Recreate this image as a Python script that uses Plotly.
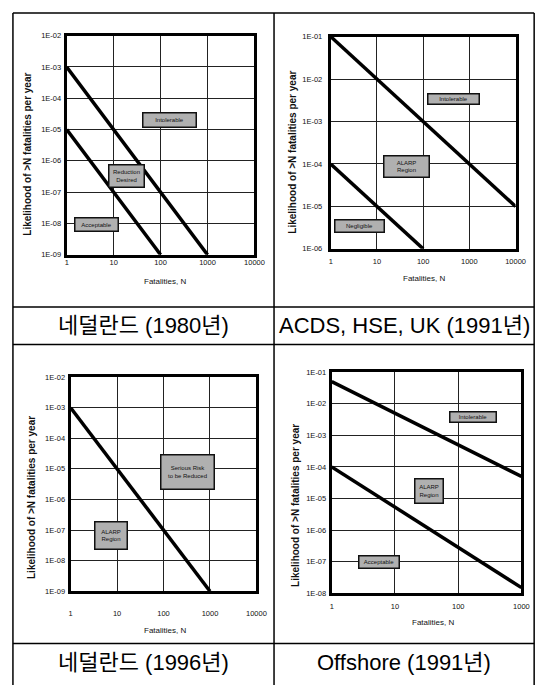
import plotly.graph_objects as go

W, H = 551, 687          # browser window
OFF = 8                  # default body margin of the written page
FW, FH = W - OFF, H - OFF

# ---------------- data ----------------
x_ticks_4 = [1, 10, 100, 1000, 10000]
x_ticktext_4 = ["1", "10", "100", "1000", "10000"]
x_ticks_3 = [1, 10, 100, 1000]
x_ticktext_3 = ["1", "10", "100", "1000"]

p1_yticks = [1e-2, 1e-3, 1e-4, 1e-5, 1e-6, 1e-7, 1e-8, 1e-9]
p1_yticktext = ["1E-02", "1E-03", "1E-04", "1E-05", "1E-06", "1E-07", "1E-08", "1E-09"]
p2_yticks = [1e-1, 1e-2, 1e-3, 1e-4, 1e-5, 1e-6]
p2_yticktext = ["1E-01", "1E-02", "1E-03", "1E-04", "1E-05", "1E-06"]
p4_yticks = [1e-1, 1e-2, 1e-3, 1e-4, 1e-5, 1e-6, 1e-7, 1e-8]
p4_yticktext = ["1E-01", "1E-02", "1E-03", "1E-04", "1E-05", "1E-06", "1E-07", "1E-08"]

# Netherlands 1980
p1_upper_n = [1, 1000]
p1_upper_f = [1e-3, 1e-9]
p1_lower_n = [1, 100]
p1_lower_f = [1e-5, 1e-9]
# ACDS, HSE, UK 1991
p2_upper_n = [1, 10000]
p2_upper_f = [1e-1, 1e-5]
p2_lower_n = [1, 100]
p2_lower_f = [1e-4, 1e-6]
# Netherlands 1996
p3_n = [1, 1000]
p3_f = [1e-3, 1e-9]
# Offshore 1991
p4_upper_n = [1, 1000]
p4_upper_f = [5e-2, 5e-5]
p4_lower_n = [1, 1000]
p4_lower_f = [1e-4, 1.5e-8]

captions = ["네덜란드 (1980년)", "ACDS, HSE, UK (1991년)", "네덜란드 (1996년)", "Offshore (1991년)"]
y_title = "Likelihood of &gt;N fatalities per year"
x_title = "Fatalities, N"

region_labels = [
    ["Intolerable", "Reduction<br>Desired", "Acceptable"],
    ["Intolerable", "ALARP<br>Region", "Negligible"],
    ["Serious Risk<br>to be Reduced", "ALARP<br>Region"],
    ["Intolerable", "ALARP<br>Region", "Acceptable"],
]

# ---------------- helpers ----------------
def px(x):
    return (x - OFF) / FW

def py(y):
    return 1 - (y - OFF) / FH

NARROW = "Liberation Sans Narrow, Arial Narrow, Liberation Sans, sans-serif"

fig = go.Figure()

# panel frames (pixel boxes: x0, x1, y0(top), y1(bottom))
frames = [
    (66, 258, 32, 254),
    (336, 525, 33, 248),
    (70, 260, 378, 595),
    (337, 531, 373, 597),
]
xranges = [[0, 4], [0, 4], [0, 4], [0, 3]]
yranges = [[-9, -2], [-6, -1], [-9, -2], [-8, -1]]
xstand = [-2, 3, 13, 4]
ystand = [1, 4, 1, 1]
xtv = [(x_ticks_4, x_ticktext_4), (x_ticks_4, x_ticktext_4), (x_ticks_4, x_ticktext_4), (x_ticks_3, x_ticktext_3)]
ytv = [(p1_yticks, p1_yticktext), (p2_yticks, p2_yticktext), (p1_yticks, p1_yticktext), (p4_yticks, p4_yticktext)]

series = [
    [(p1_upper_n, p1_upper_f), (p1_lower_n, p1_lower_f)],
    [(p2_upper_n, p2_upper_f), (p2_lower_n, p2_lower_f)],
    [(p3_n, p3_f)],
    [(p4_upper_n, p4_upper_f), (p4_lower_n, p4_lower_f)],
]

for i in range(4):
    xa = "x" if i == 0 else f"x{i+1}"
    ya = "y" if i == 0 else f"y{i+1}"
    for n, f in series[i]:
        fig.add_trace(go.Scatter(x=n, y=f, xaxis=xa, yaxis=ya, mode="lines",
                                 line=dict(color="black", width=3.5),
                                 showlegend=False, hoverinfo="skip"))
    x0, x1, y0, y1 = frames[i]
    axname = "xaxis" if i == 0 else f"xaxis{i+1}"
    ayname = "yaxis" if i == 0 else f"yaxis{i+1}"
    fig.layout[axname] = dict(
        type="log", range=xranges[i], domain=[px(x0), px(x1)],
        anchor=ya, showline=True, mirror=True, linecolor="black", linewidth=3,
        showgrid=True, gridcolor="#222222", gridwidth=1, zeroline=False,
        tickvals=xtv[i][0], ticktext=xtv[i][1], ticks="",
        tickfont=dict(family=NARROW, size=7.5, color="#111111"),
        ticklabelstandoff=xstand[i], fixedrange=True,
    )
    fig.layout[ayname] = dict(
        type="log", range=yranges[i], domain=[py(y1), py(y0)],
        anchor=xa, showline=True, mirror=True, linecolor="black", linewidth=3,
        showgrid=True, gridcolor="#222222", gridwidth=1, zeroline=False,
        tickvals=ytv[i][0], ticktext=ytv[i][1], ticks="",
        tickfont=dict(family=NARROW, size=7.5, color="#111111"),
        ticklabelstandoff=ystand[i], fixedrange=True,
    )

annotations = []

# axis titles
ytitle_pos = [(25, 152), (297, 150), (30, 500), (300, 508)]
xtitle_pos = [(166, 281), (431, 278), (167, 635), (441, 627)]
for (x, y) in ytitle_pos:
    annotations.append(dict(x=px(x), y=py(y), xref="paper", yref="paper", text=f"<b>{y_title}</b>",
                            textangle=-90, showarrow=False, xanchor="center", yanchor="middle",
                            font=dict(family="Liberation Sans, Arial, sans-serif", size=10, color="#111111")))
for (x, y) in xtitle_pos:
    annotations.append(dict(x=px(x), y=py(y), xref="paper", yref="paper", text=x_title,
                            showarrow=False, xanchor="center", yanchor="middle",
                            font=dict(family=NARROW, size=8, color="#111111")))

# region boxes (pixel centre x, centre y, width, height)
boxes = [
    [(171.5, 117, 55, 16), (127.5, 174, 37, 24), (96.5, 223.5, 45, 15)],
    [(461.5, 96.5, 53, 12), (413.5, 164.5, 47, 23), (365.5, 225, 51, 14)],
    [(189.5, 474, 55, 36), (111, 538.5, 34, 29)],
    [(481, 418, 48, 12), (436, 493, 30, 26), (385, 565, 42, 14)],
]
for i in range(4):
    for lab, (cx, cy, w, h) in zip(region_labels[i], boxes[i]):
        annotations.append(dict(x=px(cx), y=py(cy), xref="paper", yref="paper", text=lab,
                                showarrow=False, xanchor="center", yanchor="middle",
                                width=w - 3, height=h - 3, borderpad=0, borderwidth=1.5,
                                bordercolor="#111111", bgcolor="#b0b0b0",
                                font=dict(family=NARROW, size=6, color="#111111")))

# captions
cap_pos = [(144.5, 326), (411, 326), (144.5, 667), (411, 667)]
for txt, (x, y) in zip(captions, cap_pos):
    annotations.append(dict(x=px(x), y=py(y), xref="paper", yref="paper", text=txt,
                            showarrow=False, xanchor="center", yanchor="middle",
                            font=dict(family="Liberation Sans, Noto Sans CJK KR, sans-serif", size=22, color="black")))

# table lines
shapes = []
def hline(y, x0=11, x1=544):
    shapes.append(dict(type="line", xref="paper", yref="paper", x0=px(x0), x1=px(x1),
                       y0=py(y), y1=py(y), line=dict(color="black", width=1.5)))
def vline(x, y0=9, y1=690):
    shapes.append(dict(type="line", xref="paper", yref="paper", x0=px(x), x1=px(x),
                       y0=py(y0), y1=py(y1), line=dict(color="black", width=1.5)))
hline(9)
hline(307)
hline(345)
hline(648)
vline(11)
vline(278)
vline(544)

fig.update_layout(
    width=FW, height=FH, margin=dict(l=0, r=0, t=0, b=0),
    paper_bgcolor="white", plot_bgcolor="white",
    annotations=annotations, shapes=shapes, showlegend=False,
)

fig.write_html("out.html", config={"displayModeBar": False})
